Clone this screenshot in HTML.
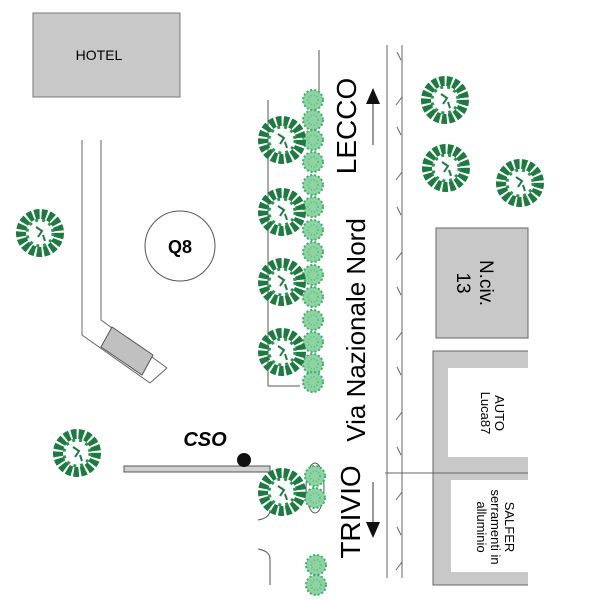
<!DOCTYPE html>
<html><head><style>body{margin:0;background:#fff}svg{display:block}text{font-family:"Liberation Sans",sans-serif}</style></head><body>
<svg width="600" height="600" viewBox="0 0 600 600" xmlns="http://www.w3.org/2000/svg">
<defs>
<g id="t">
<circle r="19" fill="none" stroke="#1f7a42" stroke-width="10" stroke-dasharray="5 2"/>
<circle r="13" fill="none" stroke="#2d9455" stroke-width="3" stroke-dasharray="3 4"/>
<path d="M-4,-6 L2,-2 L-2,4 M3,2 L5,8" stroke="#1f7a42" stroke-width="2" fill="none"/>
</g>
<g id="s">
<circle r="10" fill="#8ed3a3"/>
<circle r="10" fill="none" stroke="#3fae68" stroke-width="2" stroke-dasharray="2 2"/>
<circle r="5" fill="none" stroke="#5fc080" stroke-width="2" stroke-dasharray="1 2"/>
</g>
</defs>
<rect x="33" y="13" width="147" height="84" fill="#c8c8c8" stroke="#777"/>
<text x="99" y="60" font-size="14" text-anchor="middle">HOTEL</text>
<path d="M82,140 V335 L150,383" fill="none" stroke="#666"/>
<path d="M101,140 V320 L167,368" fill="none" stroke="#666"/>
<path d="M150,383 L167,368" fill="none" stroke="#666"/>
<polygon points="112,327 153,355 142,375 101,347" fill="#c0c0c0" stroke="#555"/>
<circle cx="180" cy="246" r="35" fill="none" stroke="#555"/>
<text x="180" y="253" font-size="18" font-weight="bold" text-anchor="middle">Q8</text>
<line x1="268" y1="100" x2="268" y2="386" stroke="#555"/>
<line x1="268" y1="386" x2="300" y2="386" stroke="#555"/>
<line x1="319" y1="50" x2="319" y2="100" stroke="#555"/>
<line x1="387" y1="45" x2="387" y2="578" stroke="#666"/>
<line x1="402" y1="45" x2="402" y2="578" stroke="#666"/>
<g stroke="#666" fill="none">
<path d="M401,60 l-4,-8 M396,105 l6,-8 M401,135 l-4,-8 M396,180 l6,-8 M401,215 l-4,-8 M396,260 l6,-8 M401,295 l-4,-8 M396,340 l6,-8 M401,375 l-4,-8 M396,420 l6,-8 M401,455 l-4,-8 M396,500 l6,-8 M401,535 l-4,-8 M396,570 l6,-8"/>
</g>
<line x1="385" y1="473" x2="528" y2="473" stroke="#666"/>
<rect x="436" y="228" width="92" height="110" fill="#c8c8c8" stroke="#666"/>
<text transform="translate(480,283) rotate(90)" font-size="19" text-anchor="middle"><tspan x="0" dy="0">N.civ.</tspan><tspan x="0" dy="23">13</tspan></text>
<path d="M528,351 H433 V585 H528" fill="#c8c8c8" stroke="#666"/>
<rect x="448" y="368" width="81" height="89" fill="#fff"/>
<rect x="451" y="480" width="78" height="92" fill="#fff"/>
<line x1="433" y1="473" x2="528" y2="473" stroke="#666"/>
<text transform="translate(495,413) rotate(90)" font-size="13" text-anchor="middle"><tspan x="0" dy="0">AUTO</tspan><tspan x="0" dy="14">Luca87</tspan></text>
<text transform="translate(505,527) rotate(90)" font-size="13" text-anchor="middle"><tspan x="0" dy="0">SALFER</tspan><tspan x="0" dy="14">serramenti in</tspan><tspan x="0" dy="14">alluminio</tspan></text>
<text transform="translate(365,330) rotate(-90)" font-size="26" text-anchor="middle">Via Nazionale Nord</text>
<text transform="translate(356,126) rotate(-90)" font-size="28" text-anchor="middle">LECCO</text>
<text transform="translate(360,512) rotate(-90)" font-size="28" text-anchor="middle">TRIVIO</text>
<line x1="373" y1="145" x2="373" y2="100" stroke="#333"/>
<polygon points="373,88 366,104 380,104" fill="#111"/>
<line x1="373" y1="482" x2="373" y2="525" stroke="#333"/>
<polygon points="373,538 366,522 380,522" fill="#111"/>
<rect x="124" y="466" width="146" height="6" fill="#d0d0d0" stroke="#555"/>
<circle cx="244" cy="460" r="7" fill="#111"/>
<text x="205" y="446" font-size="20" font-weight="bold" font-style="italic" text-anchor="middle">CSO</text>
<path d="M258,520 q12,-2 12,-10 M258,549 q12,2 12,10 V585" fill="none" stroke="#555"/>
<ellipse cx="315" cy="488" rx="9" ry="25" fill="none" stroke="#555"/>
<g>
<use href="#s" x="313" y="100"/><use href="#s" x="313" y="120"/><use href="#s" x="313" y="140"/><use href="#s" x="313" y="162"/><use href="#s" x="313" y="185"/><use href="#s" x="313" y="207"/><use href="#s" x="313" y="230"/><use href="#s" x="313" y="252"/><use href="#s" x="313" y="275"/><use href="#s" x="313" y="297"/><use href="#s" x="313" y="320"/><use href="#s" x="313" y="342"/><use href="#s" x="313" y="364"/><use href="#s" x="313" y="382"/>
<use href="#s" x="315" y="476"/><use href="#s" x="315" y="498"/>
<use href="#s" x="316" y="565"/><use href="#s" x="316" y="585"/>
</g>
<use href="#t" x="282" y="140"/><use href="#t" x="282" y="212"/><use href="#t" x="282" y="282"/><use href="#t" x="282" y="352"/>
<use href="#t" x="282" y="492"/>
<use href="#t" x="40" y="233"/><use href="#t" x="77" y="453"/>
<use href="#t" x="445" y="100"/><use href="#t" x="446" y="168"/><use href="#t" x="520" y="183"/>
</svg>
</body></html>
